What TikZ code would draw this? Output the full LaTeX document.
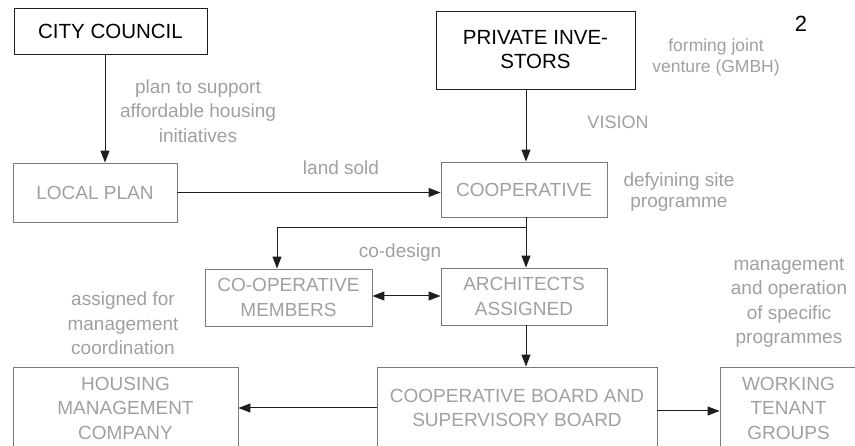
\documentclass[tikz,border=0pt]{standalone}
\usepackage{fontspec}
\setmainfont{Liberation Sans}
\usetikzlibrary{arrows.meta}
\definecolor{inkdark}{HTML}{1E1E1E}
\definecolor{framegray}{HTML}{7A7A7A}
\definecolor{textgray}{HTML}{A0A0A0}
\tikzset{
  keybox/.style={draw=inkdark, line width=0.9pt, align=center, text=black,
    font=\fontsize{20.5}{24}\selectfont, inner sep=0pt},
  softbox/.style={draw=framegray, line width=0.9pt, align=center, text=textgray,
    font=\fontsize{19}{24.5}\selectfont, inner sep=0pt},
  note/.style={align=center, text=textgray, inner sep=0pt,
    font=\fontsize{19}{24.5}\selectfont},
  smallnote/.style={align=center, text=textgray, inner sep=0pt,
    font=\fontsize{18}{20.5}\selectfont},
  flow/.style={draw=inkdark, line width=1pt, -{Triangle[length=12pt,width=9pt]}},
  twoway/.style={draw=inkdark, line width=1pt,
    {Triangle[length=12pt,width=9pt]}-{Triangle[length=12pt,width=9pt]}}
}
\begin{document}
\begin{tikzpicture}[x=1pt,y=-1pt]
\useasboundingbox (0,0) rectangle (855,446);
\clip (0,0) rectangle (855,446);

% top row
\node[keybox, minimum width=193pt, minimum height=46pt] (cc) at (110.5,31) {CITY COUNCIL};
\node[keybox, minimum width=199pt, minimum height=78pt] (pi) at (535.5,50) {PRIVATE INVE-\\STORS};
\node[font=\fontsize{22}{22}\selectfont, inner sep=0pt] (num) at (801,24) {2};

% second row
\node[softbox, minimum width=164pt, minimum height=59pt] (lp) at (95,192.5) {LOCAL PLAN};
\node[softbox, minimum width=166pt, minimum height=55pt] (coop) at (524,189.5) {COOPERATIVE};

% third row
\node[softbox, minimum width=167pt, minimum height=57pt] (mem) at (288.5,297.5) {CO-OPERATIVE\\MEMBERS};
\node[softbox, minimum width=166pt, minimum height=57pt] (arch) at (524,296.5) {ARCHITECTS\\ASSIGNED};

% bottom row (runs off the lower edge)
\node[softbox, minimum width=225pt, minimum height=82pt] (hmc) at (125.5,408) {HOUSING\\MANAGEMENT\\COMPANY};
\node[softbox, minimum width=280pt, minimum height=82pt] (board) at (517,408) {COOPERATIVE BOARD AND\\SUPERVISORY BOARD};
\node[softbox, minimum width=137pt, minimum height=82pt] (wtg) at (788.5,408) {WORKING\\TENANT\\GROUPS};

% annotations
\node[note] (plannote) at (198,111) {plan to support\\affordable housing\\initiatives};
\node[note] (landnote) at (341,168) {land sold};
\node[smallnote, font=\fontsize{17.5}{21}\selectfont] (jvnote) at (716,57) {forming joint\\venture (GMBH)};
\node[smallnote] (visionnote) at (618,122) {VISION};
\node[smallnote, font=\fontsize{19}{21}\selectfont] (sitenote) at (679,192.5) {defyining site\\programme};
\node[note] (codesign) at (400,253) {co-design};
\node[note] (mgmtnote) at (789,303) {management\\and operation\\of specific\\programmes};
\node[note] (assignnote) at (123,323.5) {assigned for\\management\\coordination};

% connector guide coordinates
\coordinate (ccx) at (105,0);
\coordinate (pix) at (526,0);
\coordinate (memx) at (277,0);
\coordinate (splity) at (0,228);
\coordinate (split) at (pix |- splity);
\coordinate (splitleft) at (memx |- splity);

% connectors
\draw[flow] (cc.south -| ccx) -- (lp.north -| ccx);
\draw[flow] (pi.south -| pix) -- (coop.north -| pix);
\draw[flow] (lp.east) -- (coop.west |- lp.east);
\draw[flow] (coop.south -| pix) -- (arch.north -| pix);
\draw[flow] (split) -- (splitleft) -- (mem.north -| memx);
\draw[twoway] ([yshift=1.5pt]mem.east) -- ([yshift=1.5pt]mem.east -| arch.west);
\draw[flow] (arch.south -| pix) -- (board.north -| pix);
\draw[flow] (board.west) -- (hmc.east);
\draw[flow] ([yshift=-3pt]board.east) -- ([yshift=-3pt]wtg.west);
\end{tikzpicture}
\end{document}
